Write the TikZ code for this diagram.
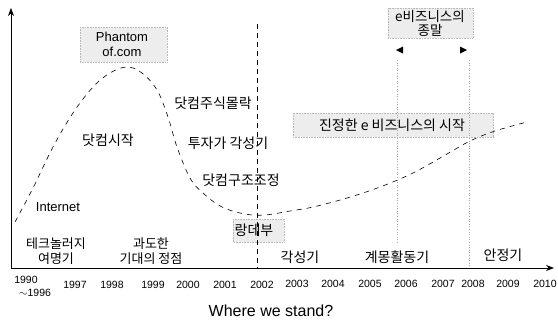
\documentclass[tikz,border=0pt]{standalone}
\usepackage{fontspec}
\setmainfont{Liberation Sans}
\newfontfamily\kr{Noto Sans CJK KR}
\usetikzlibrary{arrows.meta}
\tikzset{
  lbl/.style={inner sep=0pt, font=\kr\fontsize{14}{16}\selectfont, align=center},
  lbls/.style={inner sep=0pt, font=\kr\fontsize{13}{15}\selectfont, align=center},
  lat/.style={inner sep=0pt, font=\fontsize{13}{15}\selectfont, align=center},
  yr/.style={inner sep=0pt, font=\fontsize{10.5}{12}\selectfont},
  stip/.style={fill=gray!14, draw=gray!55, densely dotted, line width=0.6pt},
  axis/.style={line width=0.7pt, -{Stealth[length=8pt,width=6pt]}},
  hype/.style={line width=0.6pt, dash pattern=on 5pt off 5pt},
  guide/.style={line width=0.6pt, gray!70, dotted},
}
\begin{document}
\begin{tikzpicture}[x=1pt,y=-1pt]
\useasboundingbox (0,0) rectangle (558,322);
% axes
\coordinate (o) at (11,268);
\coordinate (ytop) at (11,8);
\coordinate (xend) at (554,268);
\draw[axis] (o) -- (ytop);
\draw[axis] (o) -- (xend);
% boxes
\draw[stip] (80,27) rectangle (167,62);
\draw[stip] (388,8) rectangle (473,38);
\draw[stip] (293,113) rectangle (493,137);
\draw[stip] (233,219) rectangle (284,242);
% 2002 dashed line
\coordinate (d1) at (257,24);
\coordinate (d2) at (257,268);
\draw[line width=0.7pt, dash pattern=on 5pt off 4pt] (d1) -- (d2);
% dotted guide lines
\coordinate (g1a) at (397,60);
\coordinate (g1b) at (397,243);
\coordinate (g2a) at (469,60);
\coordinate (g2b) at (469,268);
\draw[guide] (g1a) -- (g1b);
\draw[guide] (g2a) -- (g2b);
% triangles
\fill (396,50) -- (403,46.5) -- (403,53.5) -- cycle;
\fill (467,50) -- (460,46.5) -- (460,53.5) -- cycle;
% hype curve
\draw[hype] plot[smooth, tension=0.6] coordinates {(15,222) (33,188) (53,147) (73,113) (93,87) (110,73) (127,67) (142,73) (157,90) (168,117) (177,147) (190,178) (203,193) (222,207) (245,214) (265,215) (290,211) (313,207) (347,198) (380,187) (413,173) (447,154) (470,141) (495,131) (527,122)};
% box texts
\node[lat] (phantom) at (122,44) {Phantom\\of.com};
\node[lbls, font=\kr\fontsize{13.5}{14}\selectfont] (end) at (430,23) {e비즈니스의\\종말};
\node[lbl] (true) at (392,125) {진정한 e 비즈니스의 시작};
\node[lbl] (rdv) at (254,230) {랑데부};
% labels
\node[lbl] (start) at (108,140) {닷컴시작};
\node[lbl] (crash) at (213,103) {닷컴주식몰락};
\node[lbl] (wake) at (228,143) {투자가 각성기};
\node[lbl] (restr) at (241,180) {닷컴구조조정};
\node[lat] (inet) at (58,207) {Internet};
\node[lbls] (tech) at (56,251) {테크놀러지\\여명기};
\node[lbls] (peak) at (151,251) {과도한\\기대의 정점};
\node[lbl] (awake) at (300,257) {각성기};
\node[lbl] (enl) at (397,257) {계몽활동기};
\node[lbl] (stab) at (503,255) {안정기};
% years
\node[yr] (y90) at (26,280) {1990};
\node[yr] (y96) at (35,293) {$\sim$1996};
\node[yr] at (75,285) {1997};
\node[yr] at (112,285) {1998};
\node[yr] at (153,285) {1999};
\node[yr] at (188,285) {2000};
\node[yr] at (225,285) {2001};
\node[yr] at (262,285) {2002};
\node[yr] at (297,284) {2003};
\node[yr] at (333,284) {2004};
\node[yr] at (370,284) {2005};
\node[yr] at (406,284) {2006};
\node[yr] at (443,284) {2007};
\node[yr] at (473,284) {2008};
\node[yr] at (508,284) {2009};
\node[yr] at (545,284) {2010};
\node[inner sep=0pt, font=\fontsize{16}{18}\selectfont] (where) at (271,311) {Where we stand?};
\end{tikzpicture}
\end{document}
